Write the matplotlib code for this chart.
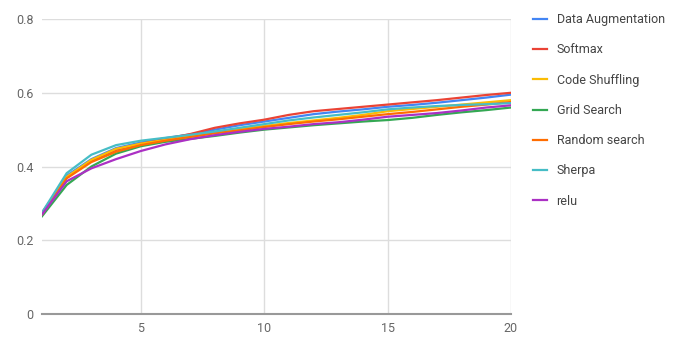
import numpy as np
import matplotlib
matplotlib.use('Agg')
import matplotlib.pyplot as plt

plt.rcParams['font.family'] = ['Roboto', 'DejaVu Sans']

epochs = list(range(1, 21))
data_aug = [.272, .375, .420, .450, .465, .477, .487, .500, .512, .522, .532, .542, .549, .555, .562, .567, .573, .580, .587, .595]
softmax = [.275, .370, .415, .445, .462, .475, .488, .505, .517, .527, .540, .550, .556, .562, .568, .574, .580, .587, .594, .600]
code_shuffling = [.270, .372, .418, .448, .462, .472, .482, .493, .502, .510, .518, .525, .532, .540, .550, .556, .562, .568, .574, .580]
grid_search = [.265, .350, .400, .435, .455, .467, .475, .483, .492, .500, .506, .512, .517, .522, .526, .532, .540, .547, .553, .560]
random_search = [.270, .368, .412, .440, .458, .470, .480, .490, .498, .507, .515, .522, .528, .535, .542, .548, .555, .562, .568, .575]
sherpa = [.275, .382, .432, .458, .470, .478, .486, .495, .505, .515, .525, .533, .540, .547, .555, .560, .564, .567, .569, .572]
relu = [.270, .360, .395, .420, .442, .460, .474, .485, .494, .502, .508, .515, .520, .527, .535, .540, .545, .552, .560, .566]

names = ['Data Augmentation', 'Softmax', 'Code Shuffling', 'Grid Search',
         'Random search', 'Sherpa', 'relu']
series = [data_aug, softmax, code_shuffling, grid_search, random_search, sherpa, relu]
colors = ['#4285F4', '#EA4335', '#FBBC04', '#34A853', '#FF6D01', '#46BDC6', '#AB30C4']

fig = plt.figure(figsize=(7, 3.4), dpi=100)
ax = fig.add_axes([0.06, 0.0765, 0.67, 0.8675])

for name, vals, c in zip(names, series, colors):
    ax.plot(epochs, vals, color=c, lw=1.6, label=name)

ax.set_xlim(1, 20)
ax.set_ylim(0, 0.8)
ax.set_xticks([5, 10, 15, 20])
ax.set_yticks([0, 0.2, 0.4, 0.6, 0.8])
ax.set_yticklabels(['0', '0.2', '0.4', '0.6', '0.8'])
ax.grid(True, color='#dddddd', lw=1)
ax.set_axisbelow(True)
for s in ['top', 'right', 'left']:
    ax.spines[s].set_visible(False)
ax.spines['bottom'].set_color('#999999')
ax.spines['bottom'].set_linewidth(1.5)
ax.tick_params(length=0, labelsize=9, labelcolor='#666666', pad=6)

ax.legend(loc='upper left', bbox_to_anchor=(0.754, 0.976), bbox_transform=fig.transFigure,
          frameon=False, fontsize=9, labelcolor='#444444', handlelength=1.1,
          handletextpad=0.8, labelspacing=1.38, borderaxespad=0)

plt.savefig('out.png')
